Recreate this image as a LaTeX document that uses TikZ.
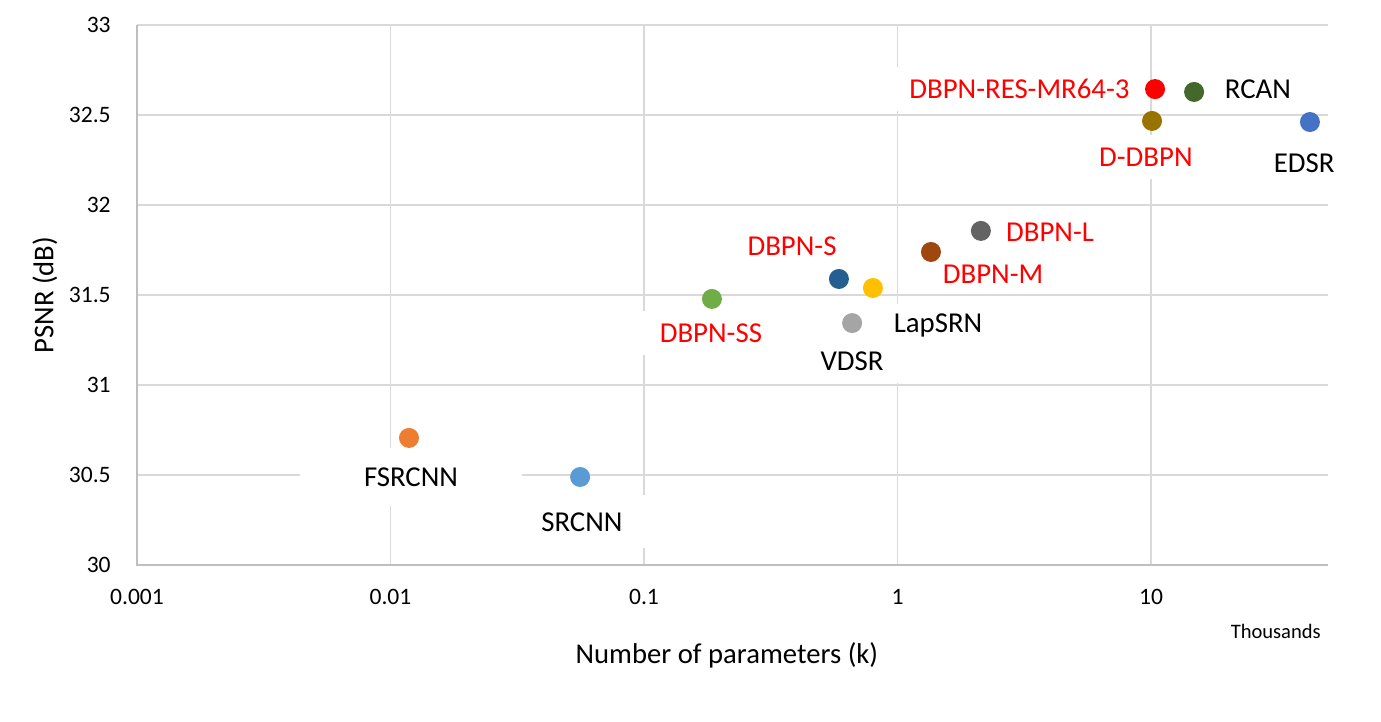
\documentclass[tikz,border=0pt]{standalone}
\usepackage{fontspec}
\setmainfont{Carlito}
\definecolor{gridgray}{HTML}{D9D9D9}
\definecolor{axisgray}{HTML}{BFBFBF}
\definecolor{cres}{HTML}{FF0000}
\definecolor{crcan}{HTML}{43682B}
\definecolor{cddbpn}{HTML}{997300}
\definecolor{cedsr}{HTML}{4472C4}
\definecolor{cdbpnl}{HTML}{636363}
\definecolor{cdbpnm}{HTML}{9E480E}
\definecolor{cdbpns}{HTML}{255E91}
\definecolor{clapsrn}{HTML}{FFC000}
\definecolor{cdbpnss}{HTML}{70AD47}
\definecolor{cvdsr}{HTML}{A5A5A5}
\definecolor{cfsrcnn}{HTML}{ED7D31}
\definecolor{csrcnn}{HTML}{5B9BD5}
\tikzset{
  ptdot/.style={circle, fill=#1, inner sep=0pt, minimum size=0.4cm},
  lbl/.style={fill=white, inner xsep=0.28cm, inner ysep=0pt, minimum height=0.88cm,
    font=\fontsize{16.4}{19}\selectfont},
  ticklbl/.style={inner sep=0pt, font=\fontsize{13.4}{16}\selectfont},
}
\begin{document}
\begin{tikzpicture}[x=5.07cm, y=3.6cm]
    \useasboundingbox (-0.5404,-0.8722) rectangle (4.9073,3.1389);

    % Draw the grid
    \foreach \d in {1,2,3,4}
        \draw[gridgray, line width=1.1pt] (\d,0) -- (\d,3);
    \foreach \v in {0.5,1,1.5,2,2.5,3}
        \draw[gridgray, line width=1.1pt] (0,\v) -- (4.698,\v);
    % Axes
    \draw[axisgray, line width=1.1pt] (0,3) -- (0,0) -- (4.698,0);

    % Tick labels
    \foreach \v/\t in {0/30,0.5/30.5,1/31,1.5/31.5,2/32,2.5/32.5,3/33}
        \node[ticklbl, anchor=east] (y\t) at (-0.1026,\v) {\t};
    \foreach \d/\t in {0/0.001,1/0.01,2/0.1,3/1,4/10}
        \node[ticklbl] (x\d) at (\d,-0.175) {\t};

    % Axis titles
    \node[font=\fontsize{16.3}{19}\selectfont] (xtitle) at (2.327,-0.5) {Number of parameters (k)};
    \node[font=\fontsize{16.3}{19}\selectfont, rotate=90] (ytitle) at (-0.363,1.5) {PSNR (dB)};
    \node[inner sep=0pt, anchor=east, font=\fontsize{11.7}{14}\selectfont] (units) at (4.671,-0.367) {Thousands};

    % Data labels
    \node[lbl, text=red] (lres) at (3.481,2.644) {DBPN-RES-MR64-3};
    \node[lbl] (lrcan) at (4.422,2.644) {RCAN};
    \node[lbl, text=red] (lddbpn) at (3.980,2.267) {D-DBPN};
    \node[lbl] (ledsr) at (4.604,2.233) {EDSR};
    \node[lbl, text=red] (ldbpnl) at (3.602,1.850) {DBPN-L};
    \node[lbl, text=red, minimum height=0.7cm] (ldbpnm) at (3.377,1.617) {DBPN-M};
    \node[lbl, text=red] (ldbpns) at (2.584,1.772) {DBPN-S};
    \node[lbl] (llapsrn) at (3.160,1.328) {LapSRN};
    \node[lbl, text=red, inner xsep=0.5cm] (ldbpnss) at (2.264,1.289) {DBPN-SS};
    \node[lbl] (lvdsr) at (2.821,1.133) {VDSR};
    \node[lbl, minimum width=4.44cm, minimum height=1.16cm] (lfsrcnn) at (1.081,0.489) {FSRCNN};
    \node[lbl, inner xsep=0.6cm, minimum height=1.06cm] (lsrcnn) at (1.755,0.239) {SRCNN};

    % Data points
    \node[ptdot=cres] (res) at (4.016,2.644) {};
    \node[ptdot=crcan] (rcan) at (4.170,2.628) {};
    \node[ptdot=cddbpn] (ddbpn) at (4.004,2.467) {};
    \node[ptdot=cedsr] (edsr) at (4.627,2.461) {};
    \node[ptdot=cdbpnl] (dbpnl) at (3.329,1.856) {};
    \node[ptdot=cdbpnm] (dbpnm) at (3.132,1.739) {};
    \node[ptdot=cdbpns] (dbpns) at (2.769,1.589) {};
    \node[ptdot=clapsrn] (lapsrn) at (2.903,1.539) {};
    \node[ptdot=cdbpnss] (dbpnss) at (2.268,1.478) {};
    \node[ptdot=cvdsr] (vdsr) at (2.821,1.344) {};
    \node[ptdot=cfsrcnn] (fsrcnn) at (1.073,0.706) {};
    \node[ptdot=csrcnn] (srcnn) at (1.748,0.489) {};
\end{tikzpicture}
\end{document}
